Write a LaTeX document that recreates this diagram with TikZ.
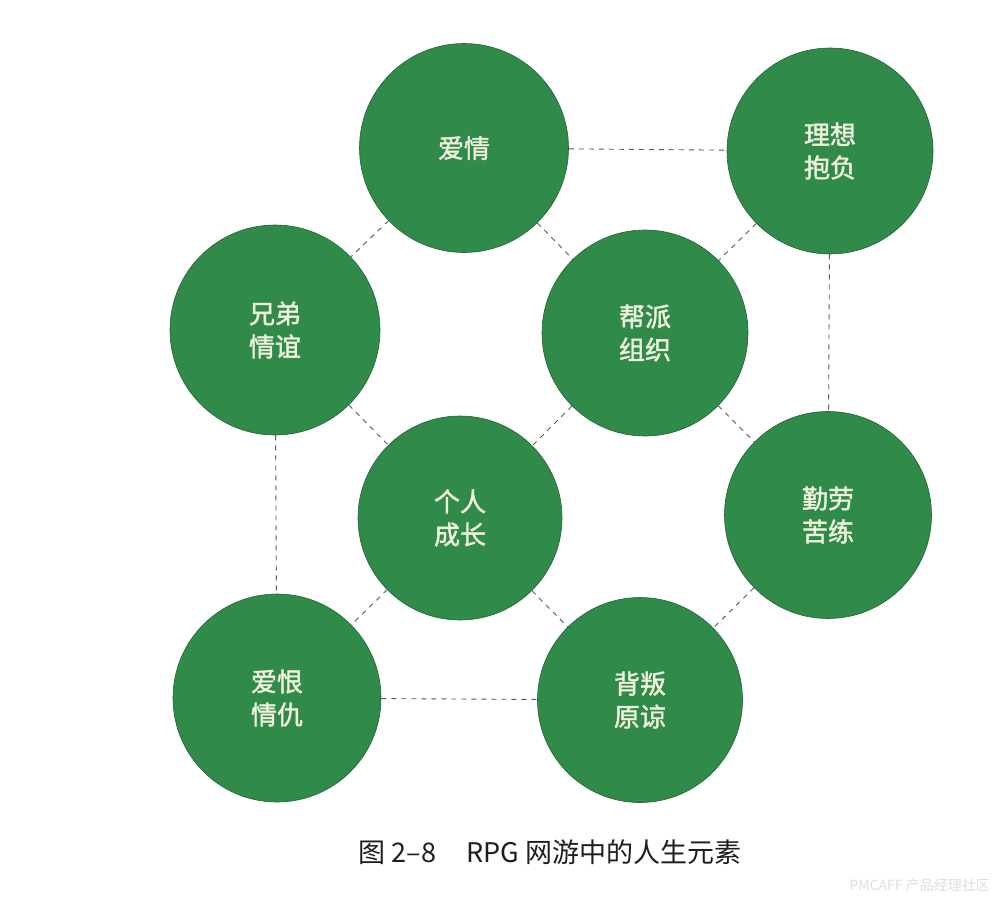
\documentclass[tikz,border=0pt]{standalone}
\usepackage{fontspec}
\newfontfamily\cjk{Noto Sans CJK SC}
\newfontfamily\cjkb[FakeBold=1.6]{Noto Sans CJK SC}
\definecolor{ballgreen}{RGB}{48,138,74}
\definecolor{balltext}{RGB}{240,242,222}
\definecolor{linkgray}{RGB}{90,90,90}
\definecolor{capgray}{RGB}{30,30,30}
\definecolor{wmgray}{RGB}{222,222,222}
\begin{document}
\begin{tikzpicture}[x=1pt,y=-1pt,
  ball/.style={circle,fill=ballgreen,draw=ballgreen!70!black,line width=0.6pt,
    minimum size=#1pt,inner sep=0pt,text=balltext,
    font=\cjkb\fontsize{26}{33}\selectfont,align=center},
  ball/.default=207,
  link/.style={draw=linkgray,line width=0.9pt,dash pattern=on 5pt off 5pt}]
\useasboundingbox (0,0) rectangle (1000,905);
\fill[white] (0,0) rectangle (1000,905);
\node[ball=209] (love)   at (464,148) {爱情};
\node[ball=206] (ideal)  at (830,151) {理想\\抱负};
\node[ball=210] (bro)    at (275,330) {兄弟\\情谊};
\node[ball=206] (gang)   at (645,333) {帮派\\组织};
\node[ball=204] (grow)   at (460,518) {个人\\成长};
\node[ball=207] (work)   at (828,515) {勤劳\\苦练};
\node[ball=208] (hate)   at (277,698) {爱恨\\情仇};
\node[ball=205] (betray) at (640,700) {背叛\\原谅};
\draw[link] (love) -- (ideal);
\draw[link] (love) -- (bro);
\draw[link] (love) -- (gang);
\draw[link] (ideal) -- (gang);
\draw[link] (ideal) -- (work);
\draw[link] (bro) -- (grow);
\draw[link] (bro) -- (hate);
\draw[link] (gang) -- (grow);
\draw[link] (gang) -- (work);
\draw[link] (grow) -- (hate);
\draw[link] (grow) -- (betray);
\draw[link] (work) -- (betray);
\draw[link] (hate) -- (betray);
\node[text=capgray,font=\cjk\fontsize{27}{30}\selectfont,inner sep=0pt] (cap) at (550,852) {图 2–8\hspace{30pt}RPG 网游中的人生元素};
\node[text=wmgray,font=\cjk\fontsize{14}{16}\selectfont,inner sep=0pt,anchor=east] (wm) at (990,885) {PMCAFF 产品经理社区};
\end{tikzpicture}
\end{document}
